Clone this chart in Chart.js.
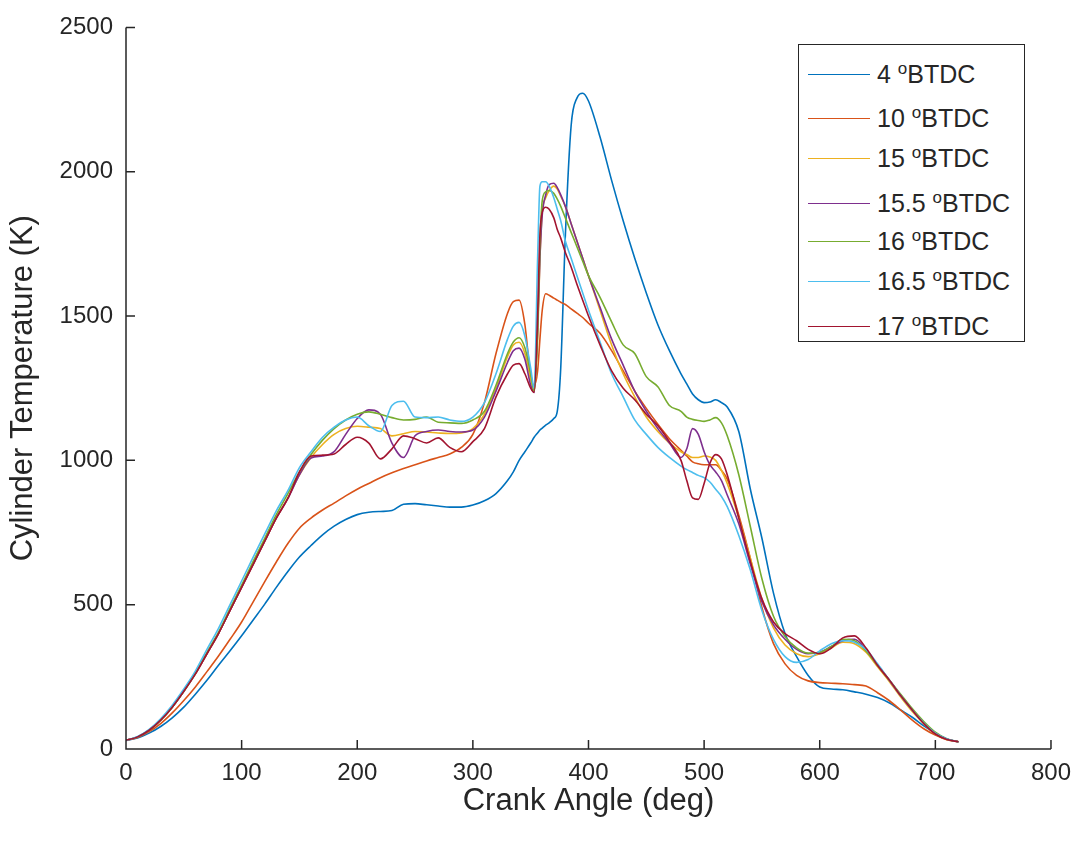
<!DOCTYPE html>
<html>
<head>
<meta charset="utf-8">
<script src="https://cdn.jsdelivr.net/npm/chart.js@4.4.1/dist/chart.umd.min.js"></script>
<style>
  body { margin: 0; background: #fff; }
  #wrap { position: relative; width: 1081px; height: 846px; }
  #legend {
    position: absolute; left: 798px; top: 44px; width: 225px; height: 296px;
    border: 1.5px solid #262626; background: #fff;
    font-family: 'Liberation Sans', Arial, sans-serif; font-size: 25px; color: #262626;
  }
  .row { position: absolute; left: 0; height: 30px; display: flex; align-items: center; white-space: nowrap; }
  .row .ln { width: 62px; height: 0; border-top: 1.6px solid; margin-left: 9px; margin-right: 7px; }
  .row sup { font-size: 17px; vertical-align: 9px; line-height: 0; }
</style>
</head>
<body>
<div id="wrap">
  <canvas id="chart" width="1081" height="846"></canvas>
  <div id="legend"></div>
</div>
<script>
// timing labels (deg BTDC) and MATLAB default line colours
var timing = ['4', '10', '15', '15.5', '16', '16.5', '17'];
var colors = ['#0072BD', '#D95319', '#EDB120', '#7E2F8E', '#77AC30', '#4DBEEE', '#A2142F'];

// crank angle (deg), shared by all series
var angle = [0,10,20,30,40,50,60,70,80,90,100,110,120,130,140,150,160,170,180,190,200,210,220,230,240,250,260,270,280,290,300,310,320,330,
  335,340,345,350,353,356,358,360,363,366,370,373,376,380,385,390,395,400,
  410,420,430,440,450,460,470,480,
  485,490,495,500,505,510,515,520,
  530,540,550,560,570,580,590,600,610,620,630,640,650,660,670,680,690,700,710,720];

// cylinder temperature (K)
var t4 = [30,38,55,78,108,145,190,238,290,340,392,447,502,560,615,665,705,742,772,795,812,820,823,826,848,850,846,842,838,838,845,860,885,930,
  960,1000,1030,1060,1080,1095,1105,1112,1122,1130,1145,1170,1320,1780,2160,2255,2272,2245,
  2120,1970,1830,1700,1580,1470,1380,1300,
  1265,1230,1210,1200,1202,1210,1200,1185,
  1100,900,730,540,400,320,255,215,208,205,198,190,178,160,135,110,80,55,35,25];
var t10 = [30,40,60,88,125,168,215,268,322,380,440,510,580,648,712,765,800,828,852,877,900,920,940,957,972,985,998,1010,1022,1045,1090,1200,1370,1510,
  1550,1555,1470,1290,1260,1310,1420,1520,1577,1572,1562,1555,1548,1540,1525,1510,1495,1475,
  1440,1380,1310,1240,1180,1125,1075,1035,
  1015,995,988,985,985,985,965,935,
  810,660,490,365,295,255,236,230,228,226,223,218,195,168,135,100,70,48,32,25];
var t15 = [30,42,65,100,145,200,260,330,400,480,560,640,720,800,870,950,1010,1055,1090,1110,1118,1115,1110,1085,1092,1100,1098,1095,1093,1095,1110,1160,1250,1360,
  1400,1409,1370,1280,1240,1420,1700,1860,1910,1935,1950,1940,1915,1880,1820,1760,1700,1640,
  1520,1400,1300,1220,1150,1100,1060,1030,
  1020,1010,1010,1015,1012,1000,965,920,
  800,660,520,420,360,330,320,330,350,370,365,335,285,235,180,130,88,52,33,25];
var t155 = [30,42,65,100,145,200,260,330,400,480,560,640,720,800,868,950,1008,1015,1030,1090,1145,1175,1160,1060,1010,1085,1100,1105,1100,1098,1105,1150,1240,1340,
  1380,1389,1350,1260,1235,1450,1700,1850,1920,1955,1960,1945,1920,1880,1820,1760,1700,1640,
  1530,1420,1330,1240,1170,1110,1060,1010,
  1040,1110,1090,1030,985,960,930,880,
  780,640,510,430,380,345,330,335,355,375,380,345,290,240,185,135,90,55,35,25];
var t16 = [30,42,65,100,145,200,262,335,405,487,568,650,730,812,885,960,1020,1070,1110,1140,1160,1168,1160,1148,1140,1142,1150,1132,1130,1128,1140,1170,1260,1370,
  1410,1425,1390,1300,1240,1450,1750,1900,1930,1935,1925,1905,1880,1840,1790,1740,1690,1640,
  1565,1480,1400,1370,1290,1255,1190,1170,
  1150,1142,1138,1135,1140,1148,1130,1085,
  950,770,590,460,390,350,332,335,355,380,375,340,290,240,190,140,95,58,35,25];
var t165 = [30,43,68,105,152,208,270,345,418,500,582,665,745,825,895,975,1030,1080,1115,1140,1150,1120,1100,1190,1205,1150,1148,1150,1140,1135,1150,1200,1300,1420,
  1465,1478,1430,1320,1250,1700,1950,1965,1965,1950,1910,1870,1830,1760,1700,1640,1580,1520,
  1410,1300,1220,1140,1090,1045,1010,980,
  968,958,948,940,925,900,875,840,
  740,620,480,380,320,300,310,340,365,375,370,345,295,240,185,135,90,55,35,25];
var t17 = [30,42,65,100,145,200,260,330,400,480,560,640,720,800,868,960,1015,1018,1022,1055,1080,1060,1005,1040,1085,1075,1060,1078,1045,1030,1065,1110,1220,1300,
  1330,1335,1300,1250,1235,1500,1780,1860,1877,1870,1840,1800,1770,1720,1670,1610,1555,1500,
  1400,1310,1250,1210,1160,1120,1065,1000,
  930,870,865,920,990,1020,1005,950,
  800,650,520,440,400,375,345,330,350,385,392,350,290,240,185,135,88,52,33,25];

var series = [t4, t10, t15, t155, t16, t165, t17];

// axis ticks
var xTicks = [0, 100, 200, 300, 400, 500, 600, 700, 800];
var yTicks = [0, 500, 1000, 1500, 2000, 2500];

var axisColor = '#262626';
var fontFamily = "'Liberation Sans', Arial, sans-serif";

function points(ys) {
    var out = [];
    for (var i = 0; i < angle.length; i++) out.push({x: angle[i], y: ys[i]});
    return out;
}

var datasets = [];
for (var i = 0; i < series.length; i++) {
    datasets.push({
        label: timing[i] + ' \u00B0BTDC',
        data: points(series[i]),
        borderColor: colors[i],
        borderWidth: 1.6,
        pointRadius: 0,
        fill: false,
        cubicInterpolationMode: 'monotone',
        order: series.length - i   // later series on top, like MATLAB
    });
}

// axis lines with inward ticks (MATLAB style, box off)
var matlabAxes = {
    id: 'matlabAxes',
    afterDraw: function(chart) {
        var ctx = chart.ctx, a = chart.chartArea;
        var xs = chart.scales.x, ys = chart.scales.y;
        ctx.save();
        ctx.strokeStyle = axisColor;
        ctx.lineWidth = 1.5;
        ctx.beginPath();
        ctx.moveTo(a.left, a.top);
        ctx.lineTo(a.left, a.bottom);
        ctx.lineTo(a.right, a.bottom);
        xs.ticks.forEach(function(t) {
            var p = xs.getPixelForValue(t.value);
            ctx.moveTo(p, a.bottom); ctx.lineTo(p, a.bottom - 9);
        });
        ys.ticks.forEach(function(t) {
            var p = ys.getPixelForValue(t.value);
            ctx.moveTo(a.left, p); ctx.lineTo(a.left + 9, p);
        });
        ctx.stroke();
        ctx.restore();
    }
};

function plain(v) { return String(v); }

var ctx = document.getElementById('chart').getContext('2d');
var myChart = new Chart(ctx, {
    type: 'line',
    data: { datasets: datasets },
    options: {
        responsive: false,
        animation: false,
        layout: { padding: { top: 18, right: 29, left: 0, bottom: 0 } },
        plugins: { legend: { display: false }, tooltip: { enabled: false } },
        scales: {
            x: {
                type: 'linear', min: 0, max: 800,
                afterBuildTicks: function(s) { s.ticks = xTicks.map(function(v) { return {value: v}; }); },
                afterFit: function(s) { s.height = 97; },
                grid: { display: false, drawTicks: false },
                border: { display: false },
                ticks: { color: axisColor, padding: 10, callback: plain, font: { family: fontFamily, size: 24 } },
                title: { display: true, text: 'Crank Angle (deg)', color: axisColor,
                         font: { family: fontFamily, size: 31 }, padding: { top: 0, bottom: 26 } }
            },
            y: {
                type: 'linear', min: 0, max: 2500,
                afterBuildTicks: function(s) { s.ticks = yTicks.map(function(v) { return {value: v}; }); },
                afterFit: function(s) { s.width = 126; },
                grid: { display: false, drawTicks: false },
                border: { display: false },
                ticks: { color: axisColor, padding: 13, callback: plain, font: { family: fontFamily, size: 24 } },
                title: { display: true, text: 'Cylinder Temperature (K)', color: axisColor,
                         font: { family: fontFamily, size: 31 }, padding: { top: 5, bottom: 0 } }
            }
        }
    },
    plugins: [matlabAxes]
});

// legend box (drawn as html so the degree mark can be raised)
var legend = document.getElementById('legend');
var rowTop = [14, 58, 98, 143, 181, 221, 266];
for (var k = 0; k < timing.length; k++) {
    var row = document.createElement('div');
    row.className = 'row';
    row.style.top = rowTop[k] + 'px';
    row.innerHTML = '<span class="ln" style="border-color:' + colors[k] + '"></span>' +
        '<span>' + timing[k] + ' <sup>o</sup>BTDC</span>';
    legend.appendChild(row);
}
</script>
</body>
</html>
